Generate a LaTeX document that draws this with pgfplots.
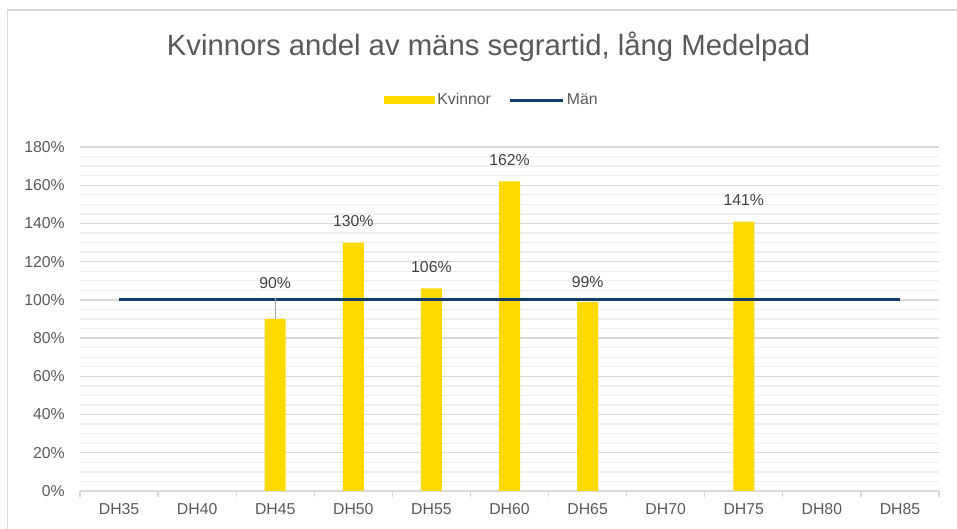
\documentclass[border=0pt]{standalone}
\usepackage{pgfplots}
\pgfplotsset{compat=1.18}
\usepackage{fontspec}
\setmainfont{Liberation Sans}
\definecolor{kyellow}{HTML}{FFDA00}
\definecolor{mnavy}{HTML}{123D66}
\definecolor{txtgray}{HTML}{595959}
\definecolor{lblgray}{HTML}{404040}
\definecolor{majgrid}{HTML}{D9D9D9}
\definecolor{mingrid}{HTML}{EFEFEF}
\definecolor{frame}{HTML}{D9D9D9}
\pgfplotstableread{
x y s
2 90 36
3 130 21
4 106 21
5 162 21
6 99 20
8 141 21
}\kvinnor
\begin{document}
\begin{tikzpicture}[x=1pt,y=1pt]
\path[use as bounding box] (0,0) rectangle (957,529);
\draw[frame,line width=1.5pt] (7.5,0) -- (7.5,519) -- (957,519);
\begin{axis}[
  /pgf/number format/assume math mode=true,
  at={(80pt,38pt)}, anchor=south west,
  scale only axis, width=859pt, height=344pt,
  xmin=-0.5, xmax=10.5, ymin=0, ymax=180,
  ytick={0,20,...,180}, minor y tick num=3,
  ymajorgrids, yminorgrids,
  major grid style={draw=majgrid,line width=1.3pt},
  minor grid style={draw=mingrid,line width=1.3pt},
  axis x line*=bottom, axis y line*=left,
  x axis line style={draw=majgrid,line width=1.3pt,-},
  y axis line style={draw=none},
  ytick style={draw=none}, major tick length=0pt, minor tick length=0pt,
  yticklabel={\pgfmathprintnumber{\tick}\%},
  yticklabel style={font=\fontsize{15.8}{18}\selectfont, text=txtgray, inner sep=0pt, anchor=east, xshift=-15pt},
  xtick={0,...,10},
  xticklabels={DH35,DH40,DH45,DH50,DH55,DH60,DH65,DH70,DH75,DH80,DH85},
  xtick style={draw=none},
  xticklabel style={font=\fontsize{15.8}{18}\selectfont, text=txtgray, inner sep=0pt, anchor=north, yshift=-12pt},
  extra x ticks={-0.5,0.5,...,10.5},
  extra x tick labels={},
  extra x tick style={grid=none, major tick length=6pt, tick align=outside, xtick style={draw=majgrid,line width=1.3pt}},
  legend columns=2,
  legend style={at={(0.4796,1.1366)}, anchor=center, draw=none, fill=none,
    font=\fontsize{15.8}{18}\selectfont, text=txtgray,
    /tikz/every even column/.append style={column sep=16pt}},
  clip=false,
]
\addplot[ybar, bar width=21pt, fill=kyellow, draw=none,
  point meta=y,
  nodes near coords={\pgfmathprintnumber{\pgfplotspointmeta}\%},
  visualization depends on={\thisrow{s} \as \ls},
  every node near coord/.append style={anchor=center, yshift=\ls pt, font=\fontsize{15.8}{18}\selectfont, text=lblgray},
  legend image code/.code={\fill[kyellow] (0pt,-4pt) rectangle (51pt,4pt);}
] table[x=x,y=y] {\kvinnor};
\addlegendentry{Kvinnor}
\addplot[mnavy, line width=3pt, mark=none,
  legend image code/.code={\draw[mnavy,line width=3pt] (0pt,0pt) -- (53pt,0pt);}
] coordinates {(0,100) (1,100) (2,100) (3,100) (4,100) (5,100) (6,100) (7,100) (8,100) (9,100) (10,100)};
\addlegendentry{Män}
\addplot[gray!70, line width=1.2pt, forget plot] coordinates {(2,90) (2,101)};
\end{axis}
\node[anchor=base, font=\fontsize{29.3}{33}\selectfont, text=txtgray] at (488.5,473) {Kvinnors andel av mäns segrartid, lång Medelpad};
\end{tikzpicture}
\end{document}
